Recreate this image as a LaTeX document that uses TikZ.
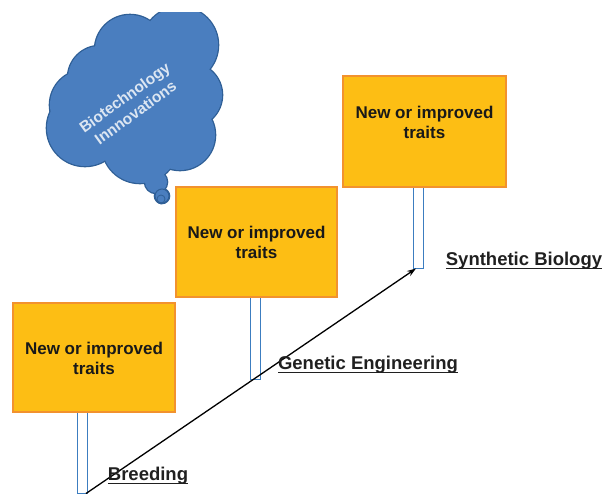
\documentclass[tikz,border=0pt]{standalone}
\usepackage{fontspec}
\usetikzlibrary{arrows.meta}
\setmainfont{Liberation Sans}
\definecolor{boxfill}{HTML}{FDBE14}
\definecolor{boxline}{HTML}{F2922E}
\definecolor{postline}{HTML}{3C7DC0}
\definecolor{cloudfill}{HTML}{4A7EBF}
\definecolor{cloudline}{HTML}{2F5F96}
\definecolor{cloudtext}{HTML}{DCE6F2}
\definecolor{labtext}{HTML}{202020}
\newcommand{\myul}[1]{\setbox0=\hbox{#1}\leavevmode\rlap{\copy0}\raisebox{-3.2pt}{\rule{\wd0}{1.4pt}}}
\begin{document}
\begin{tikzpicture}[x=1pt,y=-1pt,
  traitbox/.style={draw=boxline, line width=1.6pt, fill=boxfill, minimum width=#1, inner sep=0pt},
  posts/.style={draw=postline, line width=1pt, fill=white, minimum width=10pt, inner sep=0pt},
  traittext/.style={font=\bfseries\fontsize{17}{20}\selectfont, align=center, text=black!90},
  steplabel/.style={font=\bfseries\fontsize{18.5}{22}\selectfont, text=labtext, anchor=center},
  cloudtxt/.style={font=\bfseries\fontsize{15.5}{18.5}\selectfont, align=center, text=cloudtext, rotate=36}
]
\useasboundingbox (0,0) rectangle (607,493);

% cloud (union of circles: stroke all, then fill all)
\def\cloudlobes{130/50/35, 100/78/32, 85/105/35, 85/128/38, 140/145/38, 180/135/35, 190/95/32, 180/45/38, 156/182/11, 162/196/7, 161/199/4}
\begin{scope}
\clip (0,12) rectangle (607,493);
\foreach \cx/\cy/\r in \cloudlobes{
  \draw[cloudline, line width=2.6pt] (\cx,\cy) circle[radius=\r];
}
\fill[cloudfill] (145,100) circle[radius=50];
\foreach \cx/\cy/\r in \cloudlobes{
  \fill[cloudfill] (\cx,\cy) circle[radius=\r];
}
\draw[cloudline, line width=1pt] (162,196) circle[radius=7];
\draw[cloudline, line width=0.8pt] (161,199) circle[radius=4];
\end{scope}
\node[cloudtxt] (cloudlbl) at (130,105) {Biotechnology\\Innnovations};

% posts
\node[posts, minimum height=81pt] (post1) at (82.5,452.5) {};
\node[posts, minimum height=82pt] (post2) at (255.5,338) {};
\node[posts, minimum height=81pt] (post3) at (418.5,227.5) {};

% boxes
\node[traitbox=162pt, minimum height=109pt] (box1) at (94,357.5) {};
\node[traitbox=161pt, minimum height=110pt] (box2) at (256.5,242) {};
\node[traitbox=163pt, minimum height=111pt] (box3) at (424.5,131.5) {};
\node[traittext] (t1) at (94,358) {New or improved\\traits};
\node[traittext] (t2) at (256.5,242) {New or improved\\traits};
\node[traittext] (t3) at (424.5,122) {New or improved\\traits};

% arrow
\draw[-{Stealth[length=9pt,width=6pt]}, line width=1.3pt, black]
  ([xshift=-2pt]post1.south east) -- ([xshift=3pt]post3.south west);

% labels
\node[steplabel] (lb1) at (148,476) {\myul{Breeding}};
\node[steplabel] (lb2) at (368,365) {\myul{Genetic Engineering}};
\node[steplabel] (lb3) at (524,261) {\myul{Synthetic Biology}};
\end{tikzpicture}
\end{document}
